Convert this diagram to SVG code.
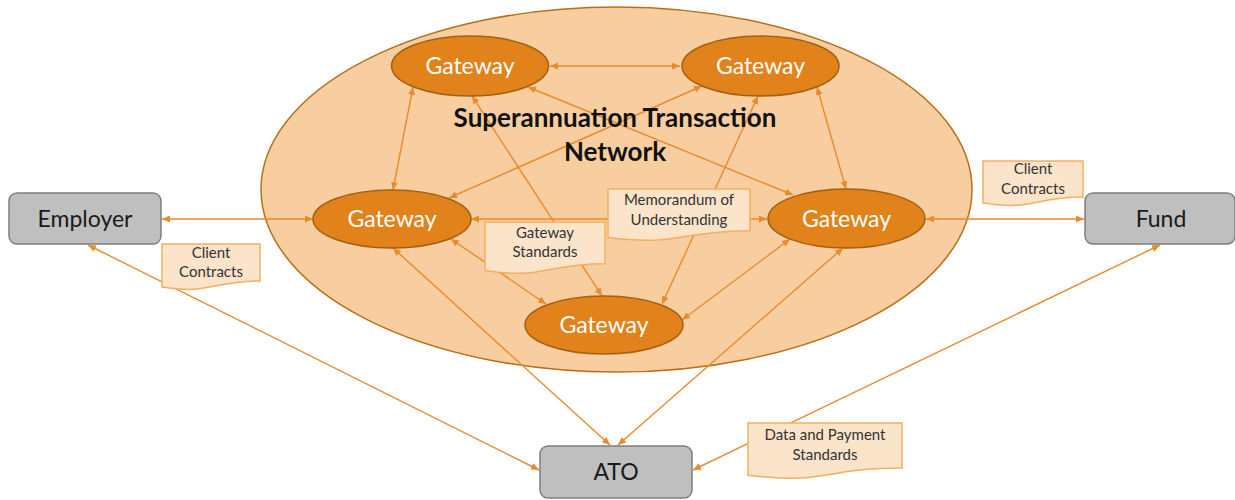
<svg xmlns="http://www.w3.org/2000/svg" width="1235" height="500" viewBox="0 0 1235 500">
  <defs>
    <marker id="arrow" viewBox="0 0 10 10" refX="10" refY="5" markerWidth="8" markerHeight="7" markerUnits="userSpaceOnUse" preserveAspectRatio="none" orient="auto-start-reverse">
      <path d="M0,0 L10,5 L0,10 z" fill="#E98A2C"/>
    </marker>
  </defs>
  <style>
    .net { fill: #F8CEA0; stroke: #B5711A; stroke-width: 1.5; }
    .gw { fill: #E2821A; stroke: #A35F12; stroke-width: 1.5; }
    .gw-text { font-family: Lato, "Open Sans", sans-serif; font-size: 23px; fill: #FFFFFF; text-anchor: middle; }
    .box { fill: #BFBFBF; stroke: #7F7F7F; stroke-width: 1.5; }
    .box-text { font-family: Lato, "Open Sans", sans-serif; font-size: 23px; fill: #1A1A1A; text-anchor: middle; }
    .note { fill: #FCE4CA; stroke: #F3AE5E; stroke-width: 1.5; }
    .note-text { font-family: Lato, "Open Sans", sans-serif; font-size: 15px; fill: #333333; text-anchor: middle; }
    .title { font-family: Lato, "Open Sans", sans-serif; font-size: 26px; font-weight: bold; fill: #111111; text-anchor: middle; }
    .link { fill: none; stroke: #E98A2C; stroke-width: 1.4; marker-start: url(#arrow); marker-end: url(#arrow); }
  </style>

  <!-- network boundary -->
  <g id="network">
    <ellipse class="net" cx="616.5" cy="189.5" rx="355.5" ry="182.5"/>
  </g>

  <!-- connectors -->
  <g id="connectors">
    <line class="link" x1="550" y1="66" x2="680" y2="66"/>
    <line class="link" x1="413" y1="87" x2="393" y2="190"/>
    <line class="link" x1="817" y1="87" x2="846" y2="189"/>
    <line class="link" x1="702" y1="86" x2="449" y2="198"/>
    <line class="link" x1="528" y1="87" x2="793" y2="195"/>
    <line class="link" x1="472" y1="96" x2="602" y2="296"/>
    <line class="link" x1="758" y1="96" x2="662" y2="304"/>
    <line class="link" x1="471" y1="219" x2="767" y2="219"/>
    <line class="link" x1="451" y1="239" x2="546" y2="304"/>
    <line class="link" x1="790" y1="239" x2="682" y2="320"/>
    <line class="link" x1="162" y1="219" x2="313" y2="219"/>
    <line class="link" x1="926" y1="219" x2="1084" y2="219"/>
    <line class="link" x1="393" y1="248" x2="610" y2="445"/>
    <line class="link" x1="843" y1="248" x2="618" y2="445"/>
    <line class="link" x1="88" y1="245" x2="539" y2="470"/>
    <line class="link" x1="1160" y1="245" x2="693" y2="470"/>
  </g>

  <text class="title" x="615" y="127">Superannuation Transaction</text>
  <text class="title" x="615" y="161">Network</text>

  <!-- document-shaped notes -->
  <g id="note-client-contracts-left">
    <path class="note" d="M162,244 H260 V280.9 C211,280.9 211,294.9 162,287 Z"/>
    <text class="note-text" x="211" y="258">Client</text>
    <text class="note-text" x="211" y="277">Contracts</text>
  </g>
  <g id="note-client-contracts-right">
    <path class="note" d="M983,161 H1083 V197.1 C1033,197.1 1033,210.8 983,203 Z"/>
    <text class="note-text" x="1033" y="174">Client</text>
    <text class="note-text" x="1033" y="194">Contracts</text>
  </g>
  <g id="note-gateway-standards">
    <path class="note" d="M485,222 H605 V263.7 C545,263.7 545,279.6 485,270.6 Z"/>
    <text class="note-text" x="545" y="238">Gateway</text>
    <text class="note-text" x="545" y="257">Standards</text>
  </g>
  <g id="note-memorandum">
    <path class="note" d="M608,189 H750 V230.7 C679,230.7 679,246.6 608,237.6 Z"/>
    <text class="note-text" x="679" y="205">Memorandum of</text>
    <text class="note-text" x="679" y="225">Understanding</text>
  </g>
  <g id="note-data-payment">
    <path class="note" d="M748,423 H902 V467.9 C825,467.9 825,485 748,475.3 Z"/>
    <text class="note-text" x="825" y="440">Data and Payment</text>
    <text class="note-text" x="825" y="460">Standards</text>
  </g>

  <!-- gateways -->
  <g id="gateway-top-left">
    <ellipse class="gw" cx="470" cy="66" rx="78.5" ry="30"/>
    <text class="gw-text" x="470" y="74">Gateway</text>
  </g>
  <g id="gateway-top-right">
    <ellipse class="gw" cx="760.5" cy="66" rx="78.5" ry="30"/>
    <text class="gw-text" x="760.5" y="74">Gateway</text>
  </g>
  <g id="gateway-mid-left">
    <ellipse class="gw" cx="392" cy="219" rx="79" ry="29"/>
    <text class="gw-text" x="392" y="227">Gateway</text>
  </g>
  <g id="gateway-mid-right">
    <ellipse class="gw" cx="846.5" cy="218.5" rx="78.5" ry="29.5"/>
    <text class="gw-text" x="846.5" y="227">Gateway</text>
  </g>
  <g id="gateway-bottom">
    <ellipse class="gw" cx="604" cy="325" rx="79" ry="29"/>
    <text class="gw-text" x="604" y="333">Gateway</text>
  </g>

  <!-- participants -->
  <g id="employer">
    <rect class="box" x="9" y="193" width="152" height="51" rx="8"/>
    <text class="box-text" x="85" y="227">Employer</text>
  </g>
  <g id="fund">
    <rect class="box" x="1085" y="193" width="150" height="51" rx="8"/>
    <text class="box-text" x="1161" y="227">Fund</text>
  </g>
  <g id="ato">
    <rect class="box" x="540" y="446" width="152" height="52" rx="8"/>
    <text class="box-text" x="616" y="480">ATO</text>
  </g>
</svg>
